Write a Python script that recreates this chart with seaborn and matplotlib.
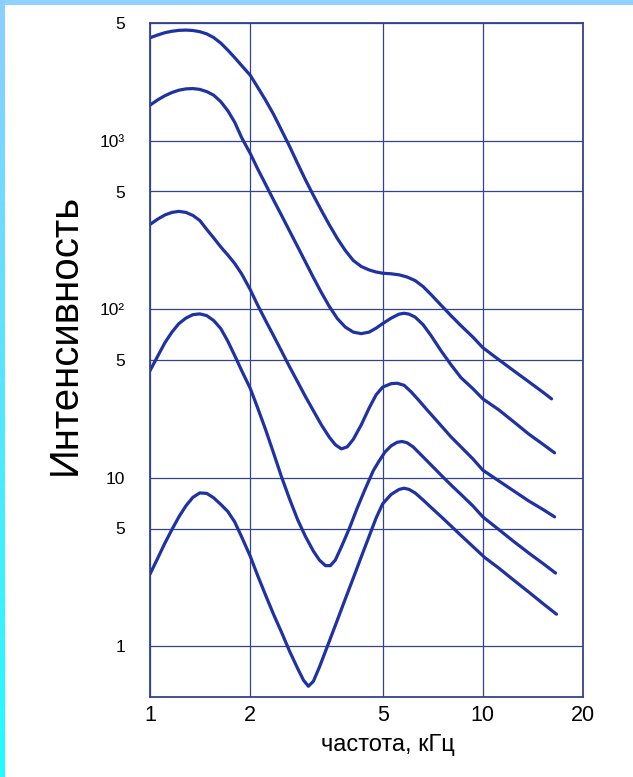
import numpy as np
import pandas as pd
import matplotlib
matplotlib.use("Agg")
import matplotlib.pyplot as plt
import seaborn as sns

# Spectra: frequency (kHz) and intensity for five curves, top to bottom
freq_1 = [1.0, 1.057, 1.109, 1.164, 1.221, 1.282, 1.345, 1.411, 1.481, 1.554, 1.632,
          1.713, 1.797, 1.886, 2.0, 2.106, 2.225, 2.350, 2.485, 2.626, 2.775, 2.932,
          3.097, 3.273, 3.459, 3.655, 3.862, 4.081, 4.312, 4.557, 4.781, 5.0, 5.304,
          5.605, 5.923, 6.259, 6.613, 6.989, 7.486, 8.022, 8.595, 9.335, 10.0, 11.17,
          12.38, 13.73, 15.23, 16.09]
int_1 = [4086, 4251, 4381, 4466, 4521, 4539, 4514, 4440, 4309, 4097, 3799,
         3451, 3115, 2792, 2451, 2080, 1741, 1438, 1154, 927.5, 734.8, 586.2,
         474.2, 386.2, 316.7, 263.2, 223.4, 194.8, 179.5, 171.1, 166.4, 163.7, 162.4,
         160.1, 155.4, 148.1, 136.5, 122.3, 105.9, 91.7, 80.0, 68.4, 59.2, 50.2,
         43.2, 37.2, 31.98, 29.4]

freq_2 = [1.0, 1.057, 1.109, 1.164, 1.221, 1.282, 1.345, 1.411, 1.481, 1.554, 1.632,
          1.713, 1.797, 1.886, 2.0, 2.106, 2.225, 2.350, 2.485, 2.626, 2.775, 2.932,
          3.097, 3.273, 3.459, 3.655, 3.862, 4.081, 4.312, 4.557, 4.781, 5.0, 5.304,
          5.605, 5.800, 6.003, 6.259, 6.613, 6.989, 7.486, 8.022, 8.595, 9.335, 10.0,
          11.17, 12.38, 13.73, 15.23, 16.43]
int_2 = [1626, 1753, 1851, 1934, 1996, 2032, 2041, 2018, 1958, 1864, 1706,
         1508, 1288, 1042, 842.5, 681.7, 551.3, 445.9, 360.6, 291.6, 235.9, 190.8,
         154.3, 125.7, 103.8, 88.1, 78.4, 73.2, 71.7, 73.2, 77.3, 82.2, 88.6,
         93.6, 94.7, 93.6, 89.9, 81.1, 69.8, 56.8, 46.9, 39.3, 33.8, 29.4,
         25.3, 21.5, 18.2, 15.7, 14.06]

freq_3 = [1.0, 1.057, 1.109, 1.164, 1.221, 1.282, 1.345, 1.411, 1.481, 1.554, 1.632,
          1.713, 1.797, 1.886, 2.0, 2.106, 2.225, 2.350, 2.485, 2.626, 2.775, 2.932,
          3.097, 3.273, 3.459, 3.605, 3.757, 3.915, 4.081, 4.312, 4.557, 4.781, 5.0,
          5.304, 5.528, 5.800, 6.087, 6.434, 6.798, 7.183, 7.591, 8.022, 8.595, 9.335,
          10.0, 11.17, 12.38, 13.73, 15.23, 16.43]
int_3 = [318.9, 343.9, 363.1, 375.8, 381.0, 375.8, 360.6, 336.6, 297.7, 265.0, 234.3,
         210.0, 186.9, 162.0, 131.0, 105.9, 85.7, 69.8, 56.4, 45.6, 37.2, 30.3,
         25.0, 20.6, 17.4, 15.7, 14.85, 15.26, 16.9, 20.6, 26.0, 31.1, 34.5,
         36.2, 36.4, 35.4, 32.4, 28.7, 25.3, 22.4, 19.8, 17.5, 15.26, 12.95,
         11.1, 9.58, 8.36, 7.29, 6.45, 5.86]

freq_4 = [1.0, 1.057, 1.109, 1.164, 1.221, 1.282, 1.345, 1.411, 1.481, 1.554, 1.632,
          1.713, 1.797, 1.886, 2.0, 2.106, 2.225, 2.350, 2.485, 2.626, 2.775, 2.932,
          3.097, 3.228, 3.365, 3.483, 3.605, 3.757, 3.971, 4.195, 4.433, 4.684, 4.882,
          5.089, 5.304, 5.528, 5.722, 5.923, 6.173, 6.434, 6.798, 7.183, 7.591, 8.022,
          8.595, 9.335, 10.0, 11.17, 12.38, 13.73, 15.23, 16.54]
int_4 = [43.2, 53.1, 63.4, 73.2, 82.2, 88.6, 92.9, 93.9, 91.7, 85.7, 76.8,
         64.7, 53.1, 43.2, 34.0, 26.0, 19.3, 14.06, 10.1, 7.49, 5.66, 4.48,
         3.67, 3.25, 3.01, 3.01, 3.25, 3.88, 5.00, 6.62, 8.59, 10.99, 12.6,
         14.26, 15.48, 16.24, 16.42, 16.13, 15.26, 14.06, 12.6, 11.29, 10.1, 9.07,
         7.97, 6.81, 5.86, 4.93, 4.19, 3.58, 3.08, 2.72]

freq_5 = [1.0, 1.057, 1.109, 1.164, 1.221, 1.282, 1.345, 1.411, 1.481, 1.554, 1.632,
          1.713, 1.797, 1.886, 2.0, 2.106, 2.225, 2.350, 2.485, 2.626, 2.775, 2.892,
          2.992, 3.097, 3.228, 3.412, 3.655, 3.862, 4.081, 4.312, 4.557, 4.781, 5.0,
          5.304, 5.605, 5.800, 6.003, 6.259, 6.613, 6.989, 7.486, 8.022, 8.595, 9.335,
          10.14, 11.17, 12.38, 13.73, 15.23, 16.65]
int_5 = [2.68, 3.36, 4.10, 4.93, 5.86, 6.81, 7.65, 8.13, 8.08, 7.60, 6.95,
         6.31, 5.47, 4.45, 3.43, 2.63, 2.01, 1.55, 1.21, 0.935, 0.741, 0.629,
         0.579, 0.620, 0.751, 1.00, 1.43, 1.91, 2.54, 3.39, 4.51, 5.78, 7.00,
         7.97, 8.53, 8.67, 8.53, 8.13, 7.39, 6.67, 5.89, 5.18, 4.55, 3.91,
         3.36, 2.91, 2.47, 2.10, 1.78, 1.55]

x_ticks = [1, 2, 5, 10, 20]
x_tick_labels = ["1", "2", "5", "10", "20"]
y_ticks = [1, 5, 10, 50, 100, 500, 1000, 5000]
y_tick_labels = ["1", "5", "10", "5", "10²", "5", "10³", "5"]

frames = []
for name, f, v in [("1", freq_1, int_1), ("2", freq_2, int_2), ("3", freq_3, int_3),
                   ("4", freq_4, int_4), ("5", freq_5, int_5)]:
    frames.append(pd.DataFrame({"freq": f, "intensity": v, "curve": name}))
df = pd.concat(frames, ignore_index=True)

sns.set_theme(style="white")
plt.rcParams["font.family"] = ["Liberation Sans", "DejaVu Sans"]

LINE = "#1e32a4"
GRID = "#34428f"

fig = plt.figure(figsize=(6.33, 7.77), dpi=100)
fig.patch.set_facecolor("white")
ax = fig.add_axes([150 / 633, 1 - 697 / 777, 433 / 633, 674 / 777])

sns.lineplot(data=df, x="freq", y="intensity", hue="curve", units="curve",
             estimator=None, sort=False, palette=[LINE] * 5, legend=False,
             linewidth=2.3, solid_joinstyle="round", solid_capstyle="round", ax=ax)

ax.set_xscale("log")
ax.set_yscale("log")
ax.set_xlim(1, 20)
ax.set_ylim(0.5, 5000)
ax.minorticks_off()
ax.set_xticks(x_ticks)
ax.set_xticklabels(x_tick_labels)
ax.set_yticks(y_ticks)
ax.set_yticklabels(y_tick_labels)
ax.tick_params(axis="both", length=0, colors="black")
ax.tick_params(axis="x", labelsize=15.5, pad=6)
ax.tick_params(axis="y", labelsize=12.5, pad=18)
ax.grid(True, color=GRID, linewidth=0.9)
for sp in ax.spines.values():
    sp.set_color(GRID)
    sp.set_linewidth(1.3)
ax.set_xlabel("")
ax.set_ylabel("")

fig.text(388 / 633, 1 - 745 / 777, "частота, кГц", fontsize=17,
         ha="center", va="center", color="black")
fig.text(65 / 633, 1 - 334 / 777, "Интенсивность", fontsize=29, rotation=90,
         ha="center", va="center", color="black")

# light blue frame along the top and left edges
top_band = fig.add_axes([0, 1 - 5 / 777, 1, 5 / 777])
top_band.set_facecolor("#8fd2ff")
top_band.set_xticks([]); top_band.set_yticks([])
for sp in top_band.spines.values():
    sp.set_visible(False)
left_band = fig.add_axes([0, 0, 5 / 633, 1])
grad = np.linspace(0, 1, 256).reshape(-1, 1)
cmap = matplotlib.colors.LinearSegmentedColormap.from_list("edge", ["#8ccfff", "#20fcff"])
left_band.imshow(grad, aspect="auto", cmap=cmap, origin="upper")
left_band.axis("off")

fig.savefig("out.png", dpi=100)
